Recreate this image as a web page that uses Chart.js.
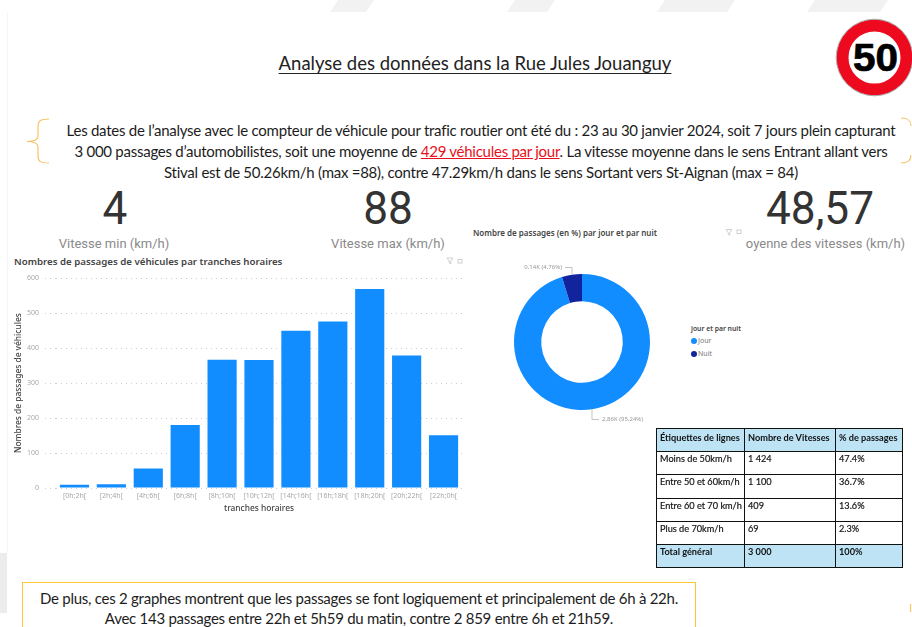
<!DOCTYPE html>
<html lang="fr">
<head>
<meta charset="utf-8">
<title>Analyse des données dans la Rue Jules Jouanguy</title>
<script src="https://cdn.jsdelivr.net/npm/chart.js@4"></script>
<style>
html, body { margin: 0; padding: 0; background: #fff; }
#page { position: relative; width: 912px; height: 627px; overflow: hidden; background: #fff; font-family: Lato, sans-serif; color: #222; }
.abs { position: absolute; white-space: nowrap; }
.line { left: 25px; width: 912px; text-align: center; font-size: 15px; letter-spacing: -0.26px; color: #1d1d1d; }
.kpi { font-family: Roboto, sans-serif; font-size: 46px; color: #333; transform: scaleX(0.96); text-align: center; }
.kpiLabel { font-family: Roboto, sans-serif; font-size: 13px; color: #8a8a8a; text-align: center; }
.ptitle { font-family: "Noto Sans", sans-serif; font-weight: 600; color: #444; }
#barWrap { position: absolute; left: 10px; top: 268px; width: 460px; height: 250px; }
#donutWrap { position: absolute; left: 490px; top: 250px; width: 184px; height: 184px; }
#tbl { position: absolute; left: 656px; top: 428px; border-collapse: collapse; font-family: Lato, sans-serif; font-size: 9.2px; color: #111; table-layout: fixed; width: 246px; }
#tbl td { border: 1px solid #111; padding: 1px 2px 0 3px; vertical-align: top; height: 23.2px; box-sizing: border-box; -webkit-text-stroke: 0.2px #222; white-space: nowrap; }
#tbl tr.hd td { background: #bde3f5; font-weight: 700; -webkit-text-stroke: 0; }
#tbl tr:first-child td { padding-top: 3px; }
#foot { position: absolute; left: 22px; top: 582px; width: 674px; height: 60px; box-sizing: border-box; border: 1.5px solid #fbc633; }
</style>
</head>
<body>
<div id="page">
  <svg class="abs" style="left:0;top:0" width="912" height="627">
    <g fill="#f2f2f2">
      <polygon points="338,0 374,0 366,12 330,12"/>
      <polygon points="515,0 555,0 547,12 507,12"/>
      <polygon points="665,0 735,0 727,12 657,12"/>
      <polygon points="815,0 888,0 880,12 807,12"/>
    </g>
    <rect x="0" y="553" width="7" height="60" fill="#ececec"/>
    <line x1="7.5" y1="12" x2="7.5" y2="553" stroke="#f6f6f6"/>
    <circle cx="874.5" cy="57.5" r="32" fill="#fff" stroke="#ee0a1e" stroke-width="12"/>
    <circle cx="874.5" cy="57.5" r="38.3" fill="none" stroke="#a8a8a8" stroke-width="1"/>
    <text x="875.5" y="71" text-anchor="middle" font-family="Liberation Sans" font-weight="700" font-size="39" textLength="45" lengthAdjust="spacingAndGlyphs" fill="#000" stroke="#000" stroke-width="0.7">50</text>
    <path d="M49 119 C40 119 38 121 38 127 L38 136 C38 139 36 141.5 27 141.5 C36 141.5 38 144 38 147 L38 156 C38 161 40 163 49 163" fill="none" stroke="#f7c46a" stroke-width="1.2"/>
    <path d="M901 118 C908 118 911 120 911 126 M911 155 C911 160 908 163 901 163" fill="none" stroke="#f7c46a" stroke-width="1.2"/>
    <line x1="910.5" y1="604" x2="910.5" y2="612" stroke="#f7c46a" stroke-width="1.2"/>
    <g fill="none" stroke="#c4c4c4" stroke-width="0.8">
      <path d="M447 258 L453 258 L450.8 261 L450.8 264 L449.2 263 L449.2 261 Z"/>
      <rect x="458" y="259.5" width="4" height="3.5"/>
      <path d="M726 229.5 L732 229.5 L729.8 232.5 L729.8 235 L728.2 234.5 L728.2 232.5 Z"/>
      <rect x="737" y="230" width="4" height="3.5"/>
    </g>
  </svg>

  <div class="abs" id="title" style="left:0;width:950px;top:52px;text-align:center;font-size:18.5px;color:#222;text-decoration:underline;text-underline-offset:3px">Analyse des données dans la Rue Jules Jouanguy</div>

  <div class="abs line" style="top:121px">Les dates de l’analyse avec le compteur de véhicule pour trafic routier ont été du : 23 au 30 janvier 2024, soit 7 jours plein capturant</div>
  <div class="abs line" style="top:142px">3 000 passages d’automobilistes, soit une moyenne de <span style="color:#e8101c;text-decoration:underline">429 véhicules par jour</span>. La vitesse moyenne dans le sens Entrant allant vers</div>
  <div class="abs line" style="top:163px">Stival est de 50.26km/h (max =88), contre 47.29km/h dans le sens Sortant vers St-Aignan (max = 84)</div>

  <div class="abs kpi" style="left:65px;width:100px;top:181px">4</div>
  <div class="abs kpi" style="left:338px;width:100px;top:181px">88</div>
  <div class="abs kpi" style="left:750px;width:140px;top:181px">48,57</div>
  <div class="abs kpiLabel" style="left:39px;width:150px;top:236px">Vitesse min (km/h)</div>
  <div class="abs kpiLabel" style="left:313px;width:150px;top:236px">Vitesse max (km/h)</div>
  <div class="abs kpiLabel" style="left:743px;width:165px;top:236px">oyenne des vitesses (km/h)</div>

  <div class="abs ptitle" style="left:14px;top:255px;font-size:9.7px">Nombres de passages de véhicules par tranches horaires</div>
  <div class="abs ptitle" style="left:473px;top:227px;font-size:8px">Nombre de passages (en %) par jour et par nuit</div>

  <div id="barWrap"><canvas id="barChart"></canvas></div>
  <div id="donutWrap"><canvas id="donutChart"></canvas></div>

  <div class="abs ptitle" style="left:691px;top:324px;font-size:6.8px">jour et par nuit</div>
  <div class="abs" style="left:691px;top:338px;width:6px;height:6px;border-radius:50%;background:#118dff"></div>
  <div class="abs" style="left:698px;top:336px;font-size:7px;color:#777;font-family:'Noto Sans'">Jour</div>
  <div class="abs" style="left:691px;top:351px;width:6px;height:6px;border-radius:50%;background:#12239e"></div>
  <div class="abs" style="left:698px;top:349px;font-size:7px;color:#777;font-family:'Noto Sans'">Nuit</div>

  <table id="tbl">
    <colgroup><col style="width:88px"><col style="width:91px"><col style="width:67px"></colgroup>
    <tbody id="tblBody"></tbody>
  </table>

  <div id="foot"></div>
  <div class="abs line" style="left:22px;width:674px;top:589px">De plus, ces 2 graphes montrent que les passages se font logiquement et principalement de 6h à 22h.</div>
  <div class="abs line" style="left:22px;width:674px;top:609px">Avec 143 passages entre 22h et 5h59 du matin, contre 2 859 entre 6h et 21h59.</div>
</div>

<script>
// Passages par tranche horaire
const tranches = ['[0h;2h[', '[2h;4h[', '[4h;6h[', '[6h;8h[', '[8h;10h[', '[10h;12h[', '[14h;16h[', '[16h;18h[', '[18h;20h[', '[20h;22h[', '[22h;0h['];
const passages = [9, 11, 56, 180, 367, 366, 450, 476, 569, 379, 151];
const yTicks = [0, 100, 200, 300, 400, 500, 600];

// Jour / nuit
const periodes = ['Jour', 'Nuit'];
const partPeriodes = [95.24, 4.76];
const etiquettesPeriodes = ['2,86K (95,24%)', '0,14K (4,76%)'];

// Tableau des vitesses
const lignesVitesses = ['Étiquettes de lignes', 'Moins de 50km/h', 'Entre 50 et 60km/h', 'Entre 60 et 70 km/h', 'Plus de 70km/h', 'Total général'];
const nombreVitesses = ['Nombre de Vitesses', '1 424', '1 100', '409', '69', '3 000'];
const pctVitesses = ['% de passages', '47.4%', '36.7%', '13.6%', '2.3%', '100%'];

const tickFont = { family: 'Noto Sans', size: 7 };
const axisFont = { family: 'Noto Sans', size: 8.4, weight: '500' };

new Chart(document.getElementById('barChart').getContext('2d'), {
    type: 'bar',
    data: {
        labels: tranches,
        datasets: [{
            data: passages,
            backgroundColor: '#118dff',
            borderWidth: 0,
            categoryPercentage: 0.79,
            barPercentage: 1
        }]
    },
    options: {
        responsive: true,
        maintainAspectRatio: false,
        animation: false,
        layout: { padding: { top: 8.5, right: 8, left: 0, bottom: 0 } },
        plugins: { legend: { display: false }, tooltip: { enabled: false } },
        scales: {
            y: {
                min: 0,
                max: 600,
                afterBuildTicks: axis => { axis.ticks = yTicks.map(v => ({ value: v })); },
                afterFit: axis => { axis.width = 46; },
                grid: { color: '#cfcfcf', tickColor: '#cfcfcf', tickLength: 11, tickBorderDash: [1, 4] },
                border: { display: false, dash: [1, 4] },
                ticks: { color: '#a8a8a8', font: tickFont, padding: 6 },
                title: { display: true, text: 'Nombres de passages de véhicules', color: '#444', font: axisFont, padding: { top: 4, bottom: 0 } }
            },
            x: {
                afterFit: axis => { axis.height = 30; },
                grid: { display: false, drawTicks: false },
                border: { display: false },
                ticks: { color: '#a8a8a8', font: tickFont, maxRotation: 0, autoSkip: false, padding: 4 },
                title: { display: true, text: 'tranches horaires', color: '#444', font: axisFont, padding: { top: 0, bottom: 4 } }
            }
        }
    }
});

// Etiquettes du donut avec trait de rappel
const donutLabels = {
    id: 'donutLabels',
    afterDatasetsDraw(chart) {
        const ctx = chart.ctx;
        chart.getDatasetMeta(0).data.forEach((arc, i) => {
            // le label du jour est ancre en bas a droite, celui de la nuit en haut a gauche
            const low = i === 0;
            const edge = low ? arc.y + arc.outerRadius : arc.y - arc.outerRadius;
            const y1 = low ? edge + 9.5 : edge - 6.5;
            const x0 = low ? arc.x + 10 : arc.x - 10;
            const x1 = low ? x0 + 7 : x0 - 7;
            ctx.save();
            ctx.strokeStyle = '#aaa';
            ctx.lineWidth = 0.7;
            ctx.beginPath();
            ctx.moveTo(x0, edge);
            ctx.lineTo(x0, y1);
            ctx.lineTo(x1, y1);
            ctx.stroke();
            ctx.fillStyle = '#999';
            ctx.font = '6px "Noto Sans"';
            ctx.textBaseline = 'middle';
            ctx.textAlign = low ? 'left' : 'right';
            ctx.fillText(etiquettesPeriodes[i], low ? x1 + 3 : x1 - 3, y1);
            ctx.restore();
        });
    }
};

new Chart(document.getElementById('donutChart').getContext('2d'), {
    type: 'doughnut',
    data: {
        labels: periodes,
        datasets: [{
            data: partPeriodes,
            backgroundColor: ['#118dff', '#12239e'],
            borderWidth: 0
        }]
    },
    options: {
        responsive: true,
        maintainAspectRatio: false,
        animation: false,
        cutout: '60%',
        layout: { padding: 24 },
        plugins: { legend: { display: false }, tooltip: { enabled: false } }
    },
    plugins: [donutLabels]
});

// Remplissage du tableau
const tblBody = document.getElementById('tblBody');
lignesVitesses.forEach((ligne, i) => {
    const tr = document.createElement('tr');
    if (i === 0 || i === lignesVitesses.length - 1) tr.className = 'hd';
    [ligne, nombreVitesses[i], pctVitesses[i]].forEach(txt => {
        const td = document.createElement('td');
        td.textContent = txt;
        tr.appendChild(td);
    });
    tblBody.appendChild(tr);
});
</script>
</body>
</html>
